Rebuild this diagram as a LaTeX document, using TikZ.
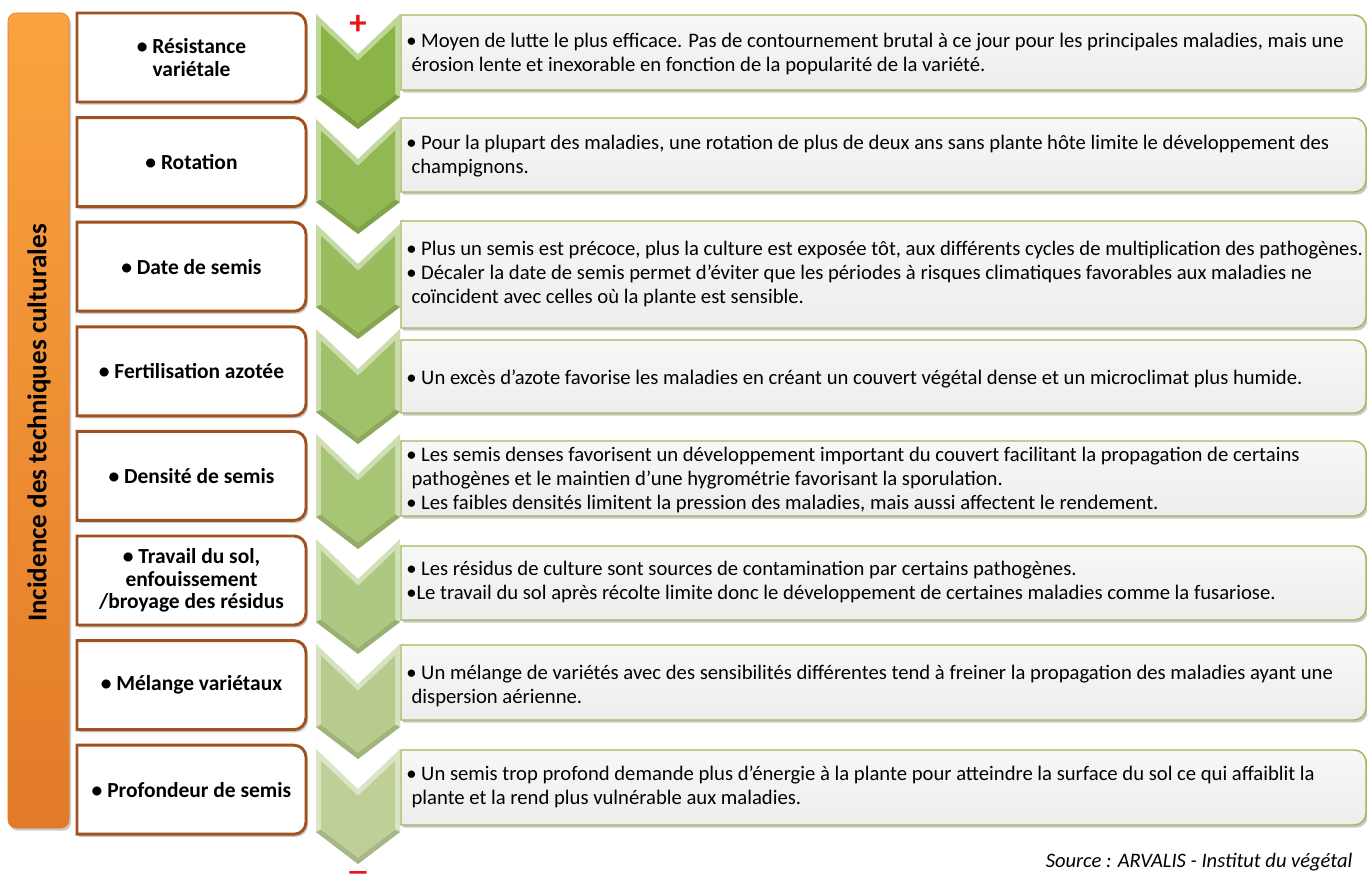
\documentclass[tikz,border=0pt]{standalone}
\usepackage{fontspec}
\setmainfont{Carlito}
\newfontfamily\signfont{Carlito}[FakeBold=4]
\usetikzlibrary{shadows}

\definecolor{barorangetop}{RGB}{250,163,64}
\definecolor{barorangebot}{RGB}{226,122,40}
\definecolor{boxbrown}{RGB}{160,82,30}
\definecolor{chevdark}{RGB}{138,180,70}
\definecolor{chevlight}{RGB}{190,208,152}
\definecolor{panelgreen}{RGB}{155,187,89}
\definecolor{signred}{RGB}{235,20,20}

\tikzset{
  factor/.style={font=\fontsize{16.1}{17}\selectfont\bfseries,align=center},
  effect/.style={font=\fontsize{15.5}{18}\selectfont,align=left,anchor=west,inner sep=0pt},
  panelshadow/.style={drop shadow={shadow xshift=1.5pt,shadow yshift=-2pt,opacity=0.35,fill=black!60}},
}

\begin{document}
\begin{tikzpicture}[x=0.75pt,y=-0.75pt]
  \useasboundingbox[fill=white] (0,0) rectangle (1367,884);

  % ================= barre verticale =================
  \draw[panelshadow,rounded corners=6pt,draw=barorangebot,
    top color=barorangetop,bottom color=barorangebot] (8,13) rectangle (69,828);
  \node[rotate=90,font=\fontsize{20.3}{22}\selectfont\bfseries] (titre) at (39,423)
    {Incidence des techniques culturales};

  % ================= techniques (cadres bruns) =================
  \foreach \i/\lab in {0/{• Résistance\\variétale},1/{• Rotation},2/{• Date de semis},
      3/{• Fertilisation azotée},4/{• Densité de semis},
      5/{• Travail du sol,\\enfouissement\\/broyage des résidus},
      6/{• Mélange variétaux},7/{• Profondeur de semis}} {
    \pgfmathsetmacro\yt{13+104.6*\i}
    \pgfmathsetmacro\yb{\yt+89}
    \draw[panelshadow,draw=boxbrown,line width=2.2pt,fill=white]
      (77,\yt) -- (294,\yt) arc[start angle=90,end angle=0,radius=9pt]
      -- (306,\yb-12) arc[start angle=0,end angle=-90,radius=9pt] -- (77,\yb) -- cycle;
    \node[factor] (fac\i) at (191.5,\yt+44.5) {\lab};
  }

  % ================= chevrons verts =================
  \foreach \i in {0,...,7} {
    \pgfmathsetmacro\ct{14+105*\i}
    \pgfmathsetmacro\mix{100-100*\i/7}
    \colorlet{chevcol}{chevdark!\mix!chevlight}
    \fill[chevcol!55!white] (316,\ct) -- (358,\ct+40) -- (400,\ct) -- (400,\ct+83)
      -- (358,\ct+115) -- (316,\ct+83) -- cycle;
    \fill[chevcol!88!black] (316,\ct+83) -- (358,\ct+115) -- (400,\ct+83)
      -- (395,\ct+80.5) -- (358,\ct+108.7) -- (321,\ct+80.5) -- cycle;
    \fill[chevcol] (321,\ct+11.7) -- (358,\ct+46.9) -- (395,\ct+11.7) -- (395,\ct+80.5)
      -- (358,\ct+108.7) -- (321,\ct+80.5) -- cycle;
  }

  % ================= cadres gris (effets) =================
  \foreach \i/\ta/\tb in {0/15/90,1/118/192,2/221/328,3/340/413,
      4/441/516,5/546/620,6/645/720,7/750/825} {
    \draw[panelshadow,draw=panelgreen,line width=1.1pt,top color=black!3,bottom color=black!7]
      (401,\ta) -- (1354,\ta) arc[start angle=90,end angle=0,radius=9pt]
      -- (1366,\tb-12) arc[start angle=0,end angle=-90,radius=9pt] -- (401,\tb) -- cycle;
  }

  \node[effect] (eff0) at (406,54) {• Moyen de lutte le plus efficace. Pas de contournement brutal à ce jour pour les principales maladies, mais une\\
    \hspace*{4pt}érosion lente et inexorable en fonction de la popularité de la variété.};
  \node[effect] (eff1) at (406,156) {• Pour la plupart des maladies, une rotation de plus de deux ans sans plante hôte limite le développement des\\
    \hspace*{4pt}champignons.};
  \node[effect] (eff2) at (406,274) {• Plus un semis est précoce, plus la culture est exposée tôt, aux différents cycles de multiplication des pathogènes.\\
    • Décaler la date de semis permet d’éviter que les périodes à risques climatiques favorables aux maladies ne\\
    \hspace*{4pt}coïncident avec celles où la plante est sensible.};
  \node[effect] (eff3) at (406,379) {• Un excès d’azote favorise les maladies en créant un couvert végétal dense et un microclimat plus humide.};
  \node[effect] (eff4) at (406,480) {• Les semis denses favorisent un développement important du couvert facilitant la propagation de certains\\
    \hspace*{4pt}pathogènes et le maintien d’une hygrométrie favorisant la sporulation.\\
    • Les faibles densités limitent la pression des maladies, mais aussi affectent le rendement.};
  \node[effect] (eff5) at (406,582) {• Les résidus de culture sont sources de contamination par certains pathogènes.\\
    •Le travail du sol après récolte limite donc le développement de certaines maladies comme la fusariose.};
  \node[effect] (eff6) at (406,686) {• Un mélange de variétés avec des sensibilités différentes tend à freiner la propagation des maladies ayant une\\
    \hspace*{4pt}dispersion aérienne.};
  \node[effect] (eff7) at (406,787) {• Un semis trop profond demande plus d’énergie à la plante pour atteindre la surface du sol ce qui affaiblit la\\
    \hspace*{4pt}plante et la rend plus vulnérable aux maladies.};

  % ================= signes et source =================
  \node[text=signred,font=\fontsize{26}{26}\selectfont\bfseries] (plus) at (358,25) {+};
  \node[text=signred,font=\fontsize{15}{15}\signfont\bfseries,inner sep=0pt,
    anchor=base,xscale=2.2] (moins) at (358,878) {–};
  \node[font=\fontsize{15.4}{17}\selectfont\itshape,anchor=east] (source) at (1357,862)
    {Source : ARVALIS - Institut du végétal};

\end{tikzpicture}
\end{document}
